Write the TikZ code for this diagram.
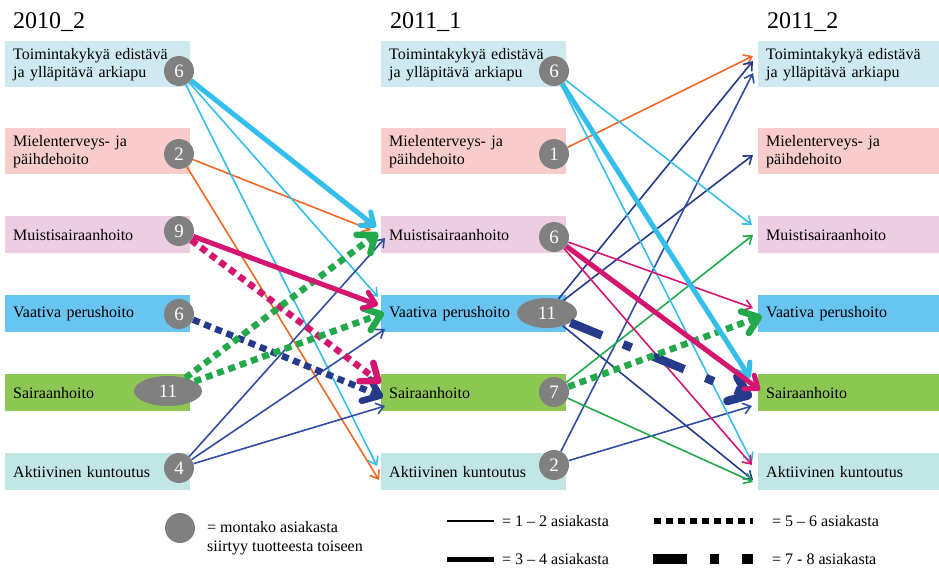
\documentclass[tikz,border=0pt]{standalone}
\usepackage{fontspec}
\setmainfont{Liberation Serif}
\usetikzlibrary{arrows.meta, shapes.geometric}

\definecolor{toimbox}{RGB}{206,234,240}
\definecolor{mielbox}{RGB}{249,204,204}
\definecolor{muisbox}{RGB}{236,205,226}
\definecolor{vaatbox}{RGB}{104,196,240}
\definecolor{sairbox}{RGB}{141,199,83}
\definecolor{aktibox}{RGB}{194,230,230}
\definecolor{numgray}{RGB}{128,128,128}
\definecolor{cyanline}{RGB}{52,190,236}
\definecolor{orangeline}{RGB}{242,103,36}
\definecolor{magline}{RGB}{212,22,112}
\definecolor{navyline}{RGB}{38,58,140}
\definecolor{blueline}{RGB}{48,76,160}
\definecolor{greenline}{RGB}{36,168,76}

\begin{document}
\begin{tikzpicture}[x=1pt, y=-1pt,
    box/.style={rectangle, anchor=north west, inner xsep=8pt, inner ysep=0pt, text width=169pt, align=left, font=\fontsize{16}{18}\selectfont},
    tall/.style={box, minimum height=46pt},
    flat/.style={box, minimum height=37pt},
    num/.style={circle, fill=numgray, minimum size=30pt, inner sep=0pt, text=white, font=\fontsize{19}{19}\selectfont},
    numwide/.style={ellipse, fill=numgray, minimum height=30pt, inner sep=0pt, text=white, font=\fontsize{19}{19}\selectfont},
    year/.style={anchor=base west, inner sep=0pt, font=\fontsize{24}{24}\selectfont},
    note/.style={anchor=west, inner sep=0pt, align=left, font=\fontsize{16}{19}\selectfont},
    one/.style={line width=1.6pt, -{Straight Barb[length=7.5pt, width=11pt]}},
    two/.style={line width=5pt, -{Straight Barb[round, length=11pt, width=17pt]}},
    three/.style={line width=6.5pt, dash pattern=on 7pt off 5pt, -{Straight Barb[round, length=15pt, width=23pt]}},
    four/.style={line width=8.5pt, dash pattern=on 34pt off 23pt on 9pt off 23pt, -{Straight Barb[round, length=17pt, width=26pt]}}
]
    \useasboundingbox (0,0) rectangle (939,568);

    \node[year] (Y1) at (13,28) {2010\_2};
    \node[year] (Y2) at (390,28) {2011\_1};
    \node[year] (Y3) at (767,28) {2011\_2};

    \node[tall, fill=toimbox] (B11) at (5,41) {Toimintakykyä edistävä\\ja ylläpitävä arkiapu};
    \node[tall, fill=mielbox] (B12) at (5,128) {Mielenterveys- ja\\päihdehoito};
    \node[flat, fill=muisbox] (B13) at (5,216) {Muistisairaanhoito};
    \node[flat, fill=vaatbox] (B14) at (5,295) {Vaativa perushoito};
    \node[flat, fill=sairbox] (B15) at (5,374) {Sairaanhoito};
    \node[flat, fill=aktibox] (B16) at (5,453) {Aktiivinen kuntoutus};

    \node[tall, fill=toimbox] (B21) at (381,41) {Toimintakykyä edistävä\\ja ylläpitävä arkiapu};
    \node[tall, fill=mielbox] (B22) at (381,128) {Mielenterveys- ja\\päihdehoito};
    \node[flat, fill=muisbox] (B23) at (381,216) {Muistisairaanhoito};
    \node[flat, fill=vaatbox] (B24) at (381,295) {Vaativa perushoito};
    \node[flat, fill=sairbox] (B25) at (381,374) {Sairaanhoito};
    \node[flat, fill=aktibox] (B26) at (381,453) {Aktiivinen kuntoutus};

    \node[tall, fill=toimbox, text width=165pt] (B31) at (758,41) {Toimintakykyä edistävä\\ja ylläpitävä arkiapu};
    \node[tall, fill=mielbox, text width=165pt] (B32) at (758,128) {Mielenterveys- ja\\päihdehoito};
    \node[flat, fill=muisbox, text width=165pt] (B33) at (758,216) {Muistisairaanhoito};
    \node[flat, fill=vaatbox, text width=165pt] (B34) at (758,295) {Vaativa perushoito};
    \node[flat, fill=sairbox, text width=165pt] (B35) at (758,374) {Sairaanhoito};
    \node[flat, fill=aktibox, text width=165pt] (B36) at (758,453) {Aktiivinen kuntoutus};

    \node[num] (N11) at (179,71) {6};
    \node[num] (N12) at (179,154) {2};
    \node[num] (N13) at (179,231) {9};
    \node[num] (N14) at (179,314) {6};
    \node[numwide, minimum width=68pt] (N15) at (168,391) {11};
    \node[num] (N16) at (179,468) {4};

    \node[num] (N21) at (554,71) {6};
    \node[num] (N22) at (554,154) {1};
    \node[num] (N23) at (554,237) {6};
    \node[numwide, minimum width=60pt] (N24) at (547,313) {11};
    \node[num] (N25) at (554,392) {7};
    \node[num] (N26) at (554,465) {2};

    \coordinate (T1) at (376,227);
    \coordinate (T2) at (378,297);
    \coordinate (T3) at (377,466);
    \coordinate (T4) at (371,230);
    \coordinate (T5) at (379,480);
    \coordinate (T6) at (378,305);
    \coordinate (T7) at (381,383);
    \coordinate (T8) at (383,397);
    \coordinate (T9) at (378,233);
    \coordinate (T10) at (384,313);
    \coordinate (T11) at (385,238);
    \coordinate (T12) at (385,329);
    \coordinate (T13) at (385,406);

    \draw[one, orangeline] (N12) -- (T4);
    \draw[one, orangeline] (N12) -- (T5);
    \draw[one, cyanline] (N11) -- (T2);
    \draw[one, cyanline] (N11) -- (T3);
    \draw[one, blueline] (N16) -- (T11);
    \draw[one, blueline] (N16) -- (T12);
    \draw[one, blueline] (N16) -- (T13);
    \draw[three, navyline] (N14) -- (T8);
    \draw[three, magline] (N13) -- (T7);
    \draw[three, greenline] (N15) -- (T9);
    \draw[three, greenline] (N15) -- (T10);
    \draw[two, magline] (N13) -- (T6);
    \draw[two, cyanline] (N11) -- (T1);

    \coordinate (S1) at (752,225);
    \coordinate (S2) at (750,378);
    \coordinate (S3) at (752,462);
    \coordinate (S4) at (753,56);
    \coordinate (S5) at (753,308);
    \coordinate (S6) at (760,390);
    \coordinate (S7) at (752,465);
    \coordinate (S8) at (753,61);
    \coordinate (S9) at (753,155);
    \coordinate (S10) at (752,397);
    \coordinate (S11) at (753,480);
    \coordinate (S12) at (753,235);
    \coordinate (S13) at (762,316);
    \coordinate (S14) at (753,482);
    \coordinate (S15) at (753,73);
    \coordinate (S16) at (752,406);

    \draw[one, orangeline] (N22) -- (S4);
    \draw[one, navyline] (N24) -- (S8);
    \draw[one, navyline] (N24) -- (S9);
    \draw[one, navyline] (N24) -- (S11);
    \draw[one, blueline] (N26) -- (S15);
    \draw[one, blueline] (N26) -- (S16);
    \draw[one, greenline] (N25) -- (S12);
    \draw[one, greenline] (N25) -- (S14);
    \draw[one, cyanline] (N21) -- (S1);
    \draw[one, cyanline] (N21) -- (S3);
    \draw[one, magline] (N23) -- (S5);
    \draw[one, magline] (N23) -- (S7);
    \draw[four, navyline] (N24) -- (S10);
    \draw[three, greenline] (N25) -- (S13);
    \draw[two, cyanline] (N21) -- (S2);
    \draw[two, magline] (N23) -- (S6);

    \node[num] (L0) at (180,528) {};
    \node[note] (K0) at (207,538) {= montako asiakasta\\siirtyy tuotteesta toiseen};

    \coordinate (L1a) at (447,521);
    \coordinate (L1b) at (494,521);
    \coordinate (L2a) at (447,559);
    \coordinate (L2b) at (494,559);
    \coordinate (L3a) at (654,521);
    \coordinate (L3b) at (753,521);
    \coordinate (L4a) at (653,559);
    \coordinate (L4b) at (753,559);
    \draw[one, -, line width=1.4pt] (L1a) -- (L1b);
    \draw[two, -] (L2a) -- (L2b);
    \draw[three, -] (L3a) -- (L3b);
    \draw[four, -, line width=10pt] (L4a) -- (L4b);
    \node[note] (K1) at (502,521) {= 1 – 2 asiakasta};
    \node[note] (K2) at (502,559) {= 3 – 4 asiakasta};
    \node[note] (K3) at (772,521) {= 5 – 6 asiakasta};
    \node[note] (K4) at (772,559) {= 7 - 8 asiakasta};
\end{tikzpicture}
\end{document}
